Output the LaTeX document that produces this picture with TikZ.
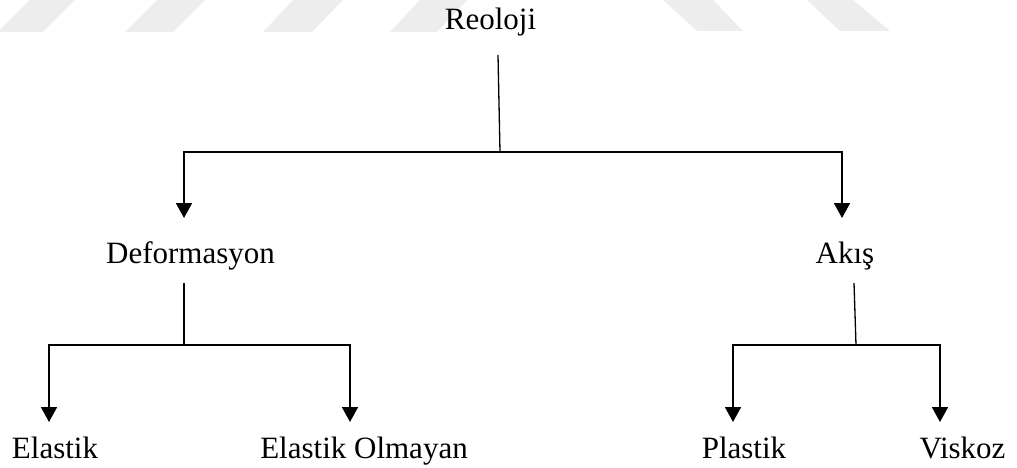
\documentclass[tikz,border=0pt]{standalone}
\usepackage{fontspec}
\setmainfont{Liberation Serif}
\usetikzlibrary{arrows.meta}
\begin{document}
\begin{tikzpicture}[x=1pt,y=-1pt,
  lbl/.style={anchor=base,inner sep=0pt,font=\fontsize{31}{36}\selectfont},
  stem/.style={line width=1.3pt},
  branch/.style={line width=1.8pt,-{Triangle[width=16pt,length=15pt]}},
  stripe/.style={fill=black!7,draw=none}]
\useasboundingbox (0,0) rectangle (1017,468);

% light slanted bands along the top edge
\begin{scope}
  \clip (0,0) rectangle (1017,468);
  \fill[stripe] (-2,32) -- (43,32) -- (75,0) -- (30,0) -- cycle;
  \fill[stripe] (125,32) -- (173,32) -- (205,0) -- (157,0) -- cycle;
  \fill[stripe] (263,32) -- (312,32) -- (343,0) -- (293,0) -- cycle;
  \fill[stripe] (390,32) -- (437,32) -- (467,0) -- (420,0) -- cycle;
  \fill[stripe] (697,31) -- (743,31) -- (713,0) -- (663,0) -- cycle;
  \fill[stripe] (840,31) -- (890,31) -- (853,0) -- (807,0) -- cycle;
\end{scope}

% labels
\node[lbl] (reo) at (490.5,30) {Reoloji};
\node[lbl] (def) at (190.5,263) {Deformasyon};
\node[lbl] (aki) at (845,263) {Akış};
\node[lbl] (ela) at (55,458) {Elastik};
\node[lbl] (elo) at (364,458) {Elastik Olmayan};
\node[lbl] (pla) at (744,458) {Plastik};
\node[lbl] (vis) at (962.5,458) {Viskoz};

% connection points
\coordinate (reoOut) at (498,55);
\coordinate (reoJ)   at (500,152);
\coordinate (defIn)  at (184,218);
\coordinate (akiIn)  at (842,218);
\coordinate (defOut) at (184,283);
\coordinate (defJ)   at (184,345);
\coordinate (elaIn)  at (49,422);
\coordinate (eloIn)  at (350,422);
\coordinate (akiOut) at (854,283);
\coordinate (akiJ)   at (856,345);
\coordinate (plaIn)  at (733,422);
\coordinate (visIn)  at (940,422);

% Reoloji
\draw[stem] (reoOut) -- (reoJ);
\draw[branch] (reoJ) -| (defIn);
\draw[branch] (reoJ) -| (akiIn);

% Deformasyon
\draw[stem] (defOut) -- (defJ);
\draw[branch] (defJ) -| (elaIn);
\draw[branch] (defJ) -| (eloIn);

% Akış
\draw[stem] (akiOut) -- (akiJ);
\draw[branch] (akiJ) -| (plaIn);
\draw[branch] (akiJ) -| (visIn);
\end{tikzpicture}
\end{document}
